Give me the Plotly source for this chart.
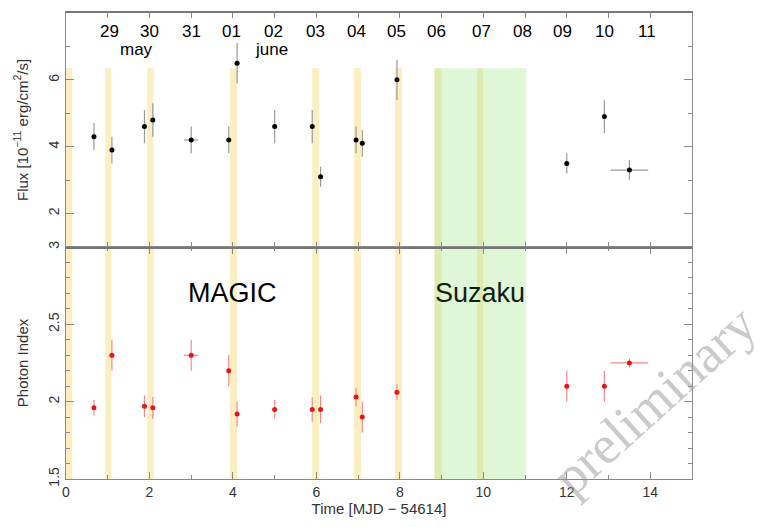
import plotly.graph_objects as go

# ---- data ----
flux_t = [0.67, 1.1, 1.88, 2.08, 3.0, 3.9, 4.1, 5.0, 5.9, 6.1, 6.95, 7.1, 7.93, 12.0, 12.9, 13.5]
flux_v = [4.3, 3.9, 4.6, 4.8, 4.2, 4.2, 6.5, 4.6, 4.6, 3.1, 4.2, 4.1, 6.0, 3.5, 4.9, 3.3]
flux_e = [0.4, 0.4, 0.5, 0.5, 0.4, 0.4, 0.6, 0.5, 0.5, 0.3, 0.4, 0.4, 0.6, 0.3, 0.5, 0.3]
t_err = [0, 0, 0, 0, 0.17, 0, 0, 0, 0, 0, 0, 0, 0, 0, 0, 0.45]

idx_v = [1.96, 2.30, 1.97, 1.96, 2.30, 2.20, 1.92, 1.95, 1.95, 1.95, 2.03, 1.90, 2.06, 2.10, 2.10, 2.25]
idx_e = [0.05, 0.10, 0.07, 0.07, 0.10, 0.10, 0.08, 0.06, 0.08, 0.09, 0.06, 0.10, 0.05, 0.10, 0.10, 0.03]

magic_start = [0.0, 0.94, 1.95, 3.93, 5.90, 6.90, 7.88, 8.83, 9.85]
magic_end = [0.15, 1.08, 2.10, 4.10, 6.07, 7.07, 8.05, 9.00, 10.00]
suzaku_start, suzaku_end = 8.83, 11.03
band_top_flux = 6.35

day_labels = ["29", "30", "31", "01", "02", "03", "04", "05", "06", "07", "08", "09", "10", "11"]
day_pos = [1.05, 2.0, 3.0, 3.97, 4.97, 5.97, 6.97, 7.93, 8.87, 9.95, 10.93, 11.9, 12.9, 13.93]
month_labels = ["may", "june"]
month_pos = [1.7, 4.93]

FONT = "Liberation Sans, Arial, Helvetica, sans-serif"
AXC = "#8a8a8a"

fig = go.Figure()

# top panel: flux
fig.add_trace(go.Scatter(
    x=flux_t, y=flux_v, mode="markers", xaxis="x2", yaxis="y2",
    marker=dict(color="black", size=5),
    error_y=dict(type="data", array=flux_e, color="#9a9a9a", thickness=1.2, width=0),
    error_x=dict(type="data", array=t_err, color="#9a9a9a", thickness=1.2, width=0),
    showlegend=False, hoverinfo="x+y"))

# bottom panel: photon index
fig.add_trace(go.Scatter(
    x=flux_t, y=idx_v, mode="markers", xaxis="x", yaxis="y",
    marker=dict(color="#e8141c", size=5),
    error_y=dict(type="data", array=idx_e, color="#f28a8a", thickness=1.2, width=0),
    error_x=dict(type="data", array=t_err, color="#f28a8a", thickness=1.2, width=0),
    showlegend=False, hoverinfo="x+y"))

shapes = []
for a, b in zip(magic_start, magic_end):
    shapes.append(dict(type="rect", xref="x", yref="y2", x0=a, x1=b, y0=1, y1=band_top_flux,
                       fillcolor="rgb(251,238,192)", line=dict(width=0), layer="below"))
    shapes.append(dict(type="rect", xref="x", yref="y", x0=a, x1=b, y0=1.5, y1=3,
                       fillcolor="rgb(251,238,192)", line=dict(width=0), layer="below"))
shapes.append(dict(type="rect", xref="x", yref="y2", x0=suzaku_start, x1=suzaku_end, y0=1, y1=band_top_flux,
                   fillcolor="rgba(165,232,145,0.36)", line=dict(width=0), layer="below"))
shapes.append(dict(type="rect", xref="x", yref="y", x0=suzaku_start, x1=suzaku_end, y0=1.5, y1=3,
                   fillcolor="rgba(165,232,145,0.36)", line=dict(width=0), layer="below"))

annotations = []
for lab, p in zip(day_labels, day_pos):
    annotations.append(dict(x=p, y=7.45, xref="x", yref="y2", text=lab, showarrow=False,
                            font=dict(size=17, color="black", family=FONT)))
for lab, p in zip(month_labels, month_pos):
    annotations.append(dict(x=p, y=6.92, xref="x", yref="y2", text=lab, showarrow=False,
                            font=dict(size=17, color="black", family=FONT)))
annotations.append(dict(x=4.0, y=2.70, xref="x", yref="y", text="MAGIC", showarrow=False,
                        font=dict(size=27, color="black", family=FONT)))
annotations.append(dict(x=9.93, y=2.70, xref="x", yref="y", text="Suzaku", showarrow=False,
                        font=dict(size=27, color="#102010", family=FONT)))
annotations.append(dict(x=0.94, y=0.17, xref="paper", yref="paper", text="preliminary", showarrow=False,
                        xanchor="center", yanchor="middle", textangle=-42,
                        font=dict(size=54, color="rgba(150,150,150,0.5)",
                                  family="Liberation Serif, Times New Roman, serif")))

tickfont = dict(size=14, color="#333333", family=FONT)
titlefont = dict(size=15, color="#333333", family=FONT)

fig.update_layout(
    width=778, height=527,
    margin=dict(l=58, r=94, t=5, b=56, autoexpand=False),
    paper_bgcolor="white", plot_bgcolor="white",
    shapes=shapes, annotations=annotations,
    xaxis=dict(domain=[0, 1], range=[0, 15], anchor="y", automargin=False,
               tickvals=[0, 2, 4, 6, 8, 10, 12, 14], ticks="inside", ticklen=7, tickcolor=AXC,
               minor=dict(dtick=1, ticks="inside", ticklen=4, tickcolor=AXC),
               showline=True, linecolor=AXC, linewidth=1, mirror="ticks",
               showgrid=False, zeroline=False, tickfont=tickfont,
               title=dict(text="Time [MJD \u2212 54614]", font=titlefont, standoff=4)),
    yaxis=dict(domain=[0, 0.498], range=[1.5, 3], anchor="x", automargin=False,
               tickvals=[1.5, 2, 2.5, 3], ticktext=["1.5", "2", "2.5", "3"],
               ticks="inside", ticklen=8, tickcolor=AXC, tickangle=-90,
               minor=dict(dtick=0.1, tick0=1.5, ticks="inside", ticklen=4, tickcolor=AXC),
               showline=True, linecolor=AXC, linewidth=1, mirror="ticks",
               showgrid=False, zeroline=False, tickfont=tickfont,
               title=dict(text="Photon Index", font=titlefont, standoff=14)),
    xaxis2=dict(domain=[0, 1], range=[0, 15], anchor="y2", matches="x", automargin=False,
                dtick=1, ticks="inside", ticklen=5, tickcolor=AXC, showticklabels=False,
                showline=True, linecolor="#777777", linewidth=1.5, mirror="ticks",
                showgrid=False, zeroline=False),
    yaxis2=dict(domain=[0.498, 1], range=[1, 8], anchor="x2", automargin=False,
                tickvals=[2, 4, 6, 8], ticks="inside", ticklen=8, tickcolor=AXC, tickangle=-90,
                minor=dict(dtick=1, tick0=1, ticks="inside", ticklen=4, tickcolor=AXC),
                showline=True, linecolor=AXC, linewidth=1, mirror="ticks",
                showgrid=False, zeroline=False, tickfont=tickfont,
                title=dict(text="Flux [10<sup>\u221211</sup> erg/cm<sup>2</sup>/s]",
                           font=titlefont, standoff=14)),
)

fig.write_html("out.html")
